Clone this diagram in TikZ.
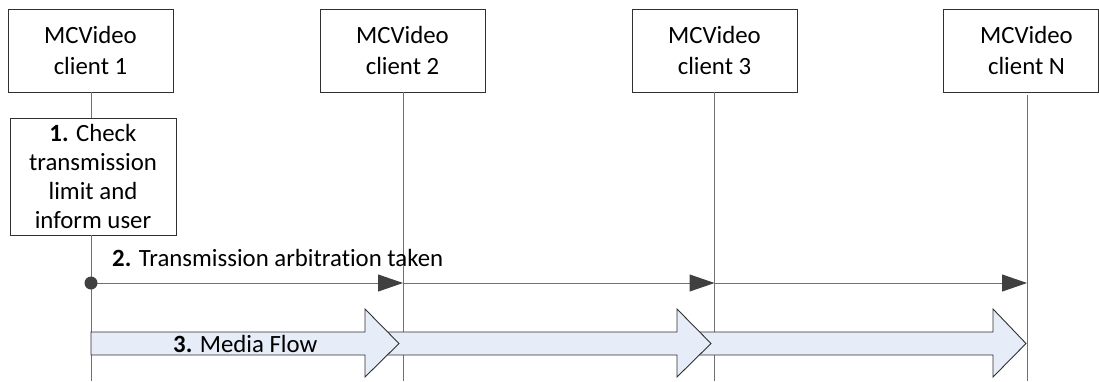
\documentclass[tikz,border=0pt]{standalone}
\usepackage{fontspec}
\setmainfont{Carlito}[RawFeature=-liga]
\usetikzlibrary{arrows.meta}
\definecolor{boxline}{HTML}{303030}
\definecolor{lifeline}{HTML}{707070}
\definecolor{tipgray}{HTML}{404040}
\definecolor{flowfill}{HTML}{E6EDF8}
\tikzset{
  client/.style={draw=boxline, line width=0.9pt, fill=white, minimum width=165pt, minimum height=83pt, inner sep=0pt, align=center, font=\fontsize{24.8}{31}\selectfont},
  actbox/.style={draw=boxline, line width=0.9pt, fill=white, minimum width=166pt, minimum height=117pt, inner sep=0pt, align=center, font=\fontsize{24.8}{29}\selectfont},
  life/.style={draw=lifeline, line width=1pt},
  msg/.style={draw=lifeline, line width=1pt, -{Triangle[length=25pt,width=17pt,color=tipgray]}},
  flow/.style={draw=boxline, line width=0.9pt, fill=flowfill, line join=miter},
  lbl/.style={font=\fontsize{24.8}{29}\selectfont, inner sep=0pt}
}
\begin{document}
\begin{tikzpicture}[x=1pt, y=-1pt]
\useasboundingbox (0,0) rectangle (1099,381);
% client boxes
\node[client] (c1) at (90.5,50.5) {MCVideo\\client 1};
\node[client] (c2) at (402.5,50.5) {MCVideo\\client 2};
\node[client] (c3) at (714.5,50.5) {MCVideo\\client 3};
\node[client, minimum width=155pt] (cN) at (1020.5,50.5) {\hspace*{12pt}MCVideo\\\hspace*{12pt}client N};
% action box
\node[actbox] (act) at (93,176.5) {\textbf{1.} Check\\transmission\\limit and\\inform user};
% lifeline coordinates
\coordinate (l1b) at (91,381);
\coordinate (l2t) at (403,92);
\coordinate (l2b) at (403,381);
\coordinate (l3t) at (714.5,92);
\coordinate (l3b) at (714.5,381);
\coordinate (lNt) at (1027,95);
\coordinate (lNb) at (1027,381);
\coordinate (a1t) at (91,92);
\coordinate (a1m) at (91,118);
\coordinate (a1b) at (91,235);
% lifelines
\draw[life] (a1t) -- (a1m);
\draw[life] (a1b) -- (l1b);
\draw[life] (l2t) -- (l2b);
\draw[life] (l3t) -- (l3b);
\draw[life] (lNt) -- (lNb);
% message 2
\coordinate (m1) at (91,283);
\coordinate (m2) at (403,283);
\coordinate (m3) at (714.5,283);
\coordinate (mN) at (1027,283);
\draw[msg] (m1) -- (m2);
\draw[msg] (m2) -- (m3);
\draw[msg] (m3) -- (mN);
\fill[tipgray] (m1) circle (6.5pt);
\node[lbl, anchor=base west] (t2) at (112,266) {\textbf{2.} Transmission arbitration taken};
% media flow arrows (drawn right to left so earlier heads lie on top)
\draw[flow] (690,332) -- (993,332) -- (993,309) -- (1026,343.5) -- (993,377) -- (993,355) -- (690,355);
\draw[flow] (380,332) -- (677,332) -- (677,309) -- (711,343.5) -- (677,377) -- (677,355) -- (380,355);
\draw[flow] (91,332) -- (365,332) -- (365,309) -- (399,343.5) -- (365,377) -- (365,355) -- (91,355) -- cycle;
\node[lbl, anchor=base west] (t3) at (173,352) {\textbf{3.} Media Flow};
\end{tikzpicture}
\end{document}
